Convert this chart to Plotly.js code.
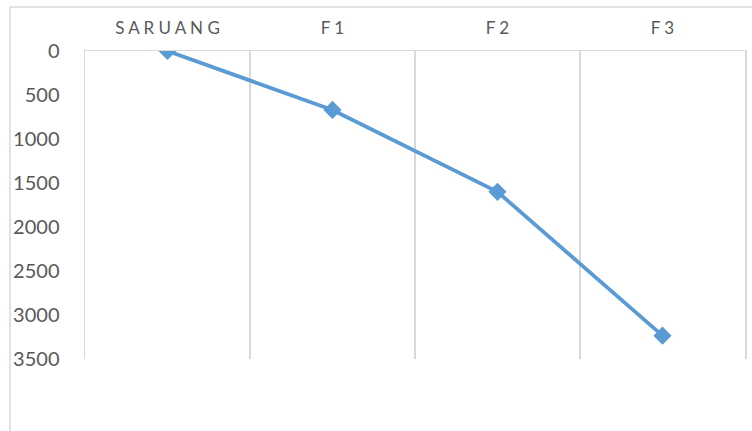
<!DOCTYPE html>
<html>
<head>
<meta charset="utf-8">
<script src="https://cdn.plot.ly/plotly-3.0.1.min.js"></script>
<style>
  html, body { margin: 0; padding: 0; background: #ffffff; }
  #chart { width: 752px; height: 431px; }
</style>
</head>
<body>
<div id="chart"></div>
<script>
// Sample points along the profile
const categories = ['SARUANG', 'F1', 'F2', 'F3'];
const depthValues = [0, 670, 1600, 3235];

// Y axis tick values (reversed axis, 0 at top)
const yTicks = [0, 500, 1000, 1500, 2000, 2500, 3000, 3500];

// Spaced-out category captions
const xTickText = categories.map(c => c.split('').join(' '));

const W = 752, H = 431;
const margin = { l: 85, r: 7, t: 51, b: 72 };
const plotW = W - margin.l - margin.r;
const plotH = H - margin.t - margin.b;

// Outer chart-area frame in paper coordinates
const frameLeft = (10 - margin.l) / plotW;
const frameTop = 1 + (margin.t - 7) / plotH;

const gridColor = '#D9D9D9';

const trace = {
  type: 'scatter',
  mode: 'lines+markers',
  x: categories,
  y: depthValues,
  line: { color: '#5B9BD5', width: 3.8 },
  marker: { symbol: 'diamond', size: 14, color: '#5B9BD5' },
  hoverinfo: 'x+y'
};

const layout = {
  width: W,
  height: H,
  margin: margin,
  paper_bgcolor: '#ffffff',
  plot_bgcolor: '#ffffff',
  showlegend: false,
  font: { family: 'Lato, "Open Sans", sans-serif', color: '#595959' },
  xaxis: {
    type: 'category',
    side: 'top',
    range: [-0.5, categories.length - 0.5],
    tickmode: 'array',
    tickvals: categories,
    ticktext: xTickText,
    tickson: 'boundaries',
    ticks: '',
    showgrid: true,
    gridcolor: gridColor,
    gridwidth: 1.5,
    showline: true,
    linecolor: gridColor,
    linewidth: 1.5,
    zeroline: false,
    ticklabelstandoff: 9,
    tickfont: { size: 17, color: '#595959' }
  },
  yaxis: {
    range: [3500, 0],
    tickmode: 'array',
    tickvals: yTicks,
    ticktext: yTicks.map(String),
    ticks: '',
    showgrid: false,
    showline: true,
    mirror: true,
    linecolor: gridColor,
    linewidth: 1.5,
    zeroline: false,
    ticklabelstandoff: 20,
    tickfont: { size: 20, color: '#595959' }
  },
  shapes: [
    {
      type: 'line', xref: 'paper', yref: 'paper',
      x0: frameLeft, x1: 1.2, y0: frameTop, y1: frameTop,
      line: { color: gridColor, width: 1.5 }
    },
    {
      type: 'line', xref: 'paper', yref: 'paper',
      x0: frameLeft, x1: frameLeft, y0: frameTop, y1: -0.5,
      line: { color: gridColor, width: 1.5 }
    }
  ]
};

Plotly.newPlot('chart', [trace], layout, { staticPlot: true, displayModeBar: false });
</script>
</body>
</html>
